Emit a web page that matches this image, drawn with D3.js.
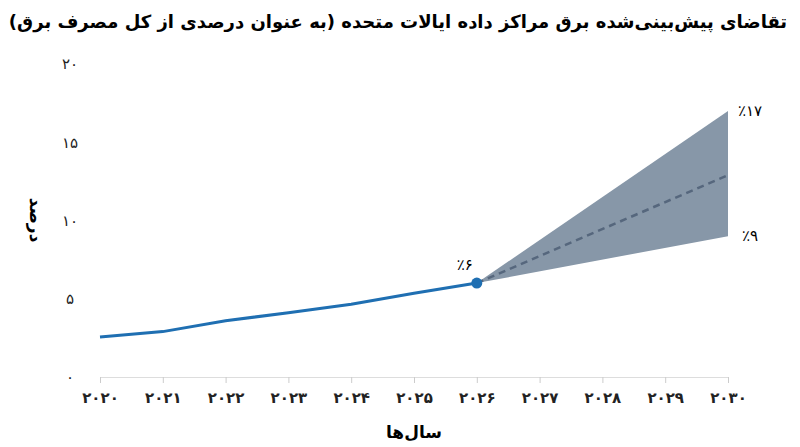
<!DOCTYPE html><html><head><meta charset="utf-8">
<script src="https://cdn.jsdelivr.net/npm/d3@7"></script>
<style>body{margin:0;background:#fff}text{font-family:"DejaVu Sans",sans-serif}</style></head><body>
<svg id="c" width="800" height="447"></svg>
<script>
const years=[2020,2021,2022,2023,2024,2025,2026,2027,2028,2029,2030];
const histYears=[2020,2021,2022,2023,2024,2025,2026];
const histValues=[2.55,2.9,3.6,4.1,4.65,5.35,6.0];
const projYears=[2026,2030];
const projMid=[6.0,12.9];
const projLow=[6.0,9.0];
const projHigh=[6.0,17.0];
const yTicks=[0,5,10,15,20];
const fa=n=>String(n).replace(/\d/g,d=>"۰۱۲۳۴۵۶۷۸۹"[d]);
const svg=d3.select("#c");
const x=d3.scaleLinear().domain([2020,2030]).range([100,728]);
const y=d3.scaleLinear().domain([0,20]).range([377,64]);
svg.append("text").attr("x",398).attr("y",28).attr("text-anchor","middle").attr("font-size",18).attr("font-weight","bold").text("تقاضای پیش‌بینی‌شده برق مراکز داده ایالات متحده (به عنوان درصدی از کل مصرف برق)");
const xa=svg.append("g").attr("transform","translate(0,377)").call(d3.axisBottom(x).tickValues(years).tickFormat(fa).tickSize(6).tickSizeOuter(0));
xa.select(".domain").attr("stroke","#ddd");xa.selectAll(".tick line").attr("stroke","#ccc");
xa.selectAll("text").attr("font-size",15).attr("font-weight","bold").attr("dy","1.1em").attr("fill","#222");
const ya=svg.append("g").attr("transform","translate(70,0)").call(d3.axisLeft(y).tickValues(yTicks).tickFormat(fa).tickSize(0));
ya.select(".domain").remove();ya.selectAll("text").attr("font-size",15).attr("fill","#222").attr("text-anchor","middle").attr("x",0);
svg.append("text").attr("x",414).attr("y",438).attr("text-anchor","middle").attr("font-size",17).attr("font-weight","bold").text("سال‌ها");
svg.append("text").attr("transform","translate(30,220) rotate(90)").attr("text-anchor","middle").attr("font-size",17).attr("font-weight","bold").text("درصد");
const band=projYears.map((d,i)=>({x:d,lo:projLow[i],hi:projHigh[i]}));
svg.append("path").datum(band).attr("fill","#8797a8").attr("d",d3.area().x(d=>x(d.x)).y0(d=>y(d.lo)).y1(d=>y(d.hi)));
svg.append("path").datum(projYears.map((d,i)=>[d,projMid[i]])).attr("fill","none").attr("stroke","#56677d").attr("stroke-width",2.5).attr("stroke-dasharray","7,5").attr("d",d3.line().x(d=>x(d[0])).y(d=>y(d[1])));
svg.append("path").datum(histYears.map((d,i)=>[d,histValues[i]])).attr("fill","none").attr("stroke","#1f6fb2").attr("stroke-width",3).attr("d",d3.line().x(d=>x(d[0])).y(d=>y(d[1])));
svg.append("circle").attr("cx",x(2026)).attr("cy",y(6)).attr("r",5.5).attr("fill","#1f6fb2");
const lab=(t,xx,yy)=>svg.append("text").attr("x",xx).attr("y",yy).attr("text-anchor","middle").attr("font-size",15).text(t);
lab("٪"+fa(6),x(2026)-12,y(6)-13);
lab("٪"+fa(17),750,y(17)+5);
lab("٪"+fa(9),750,y(9)+5);
</script></body></html>
